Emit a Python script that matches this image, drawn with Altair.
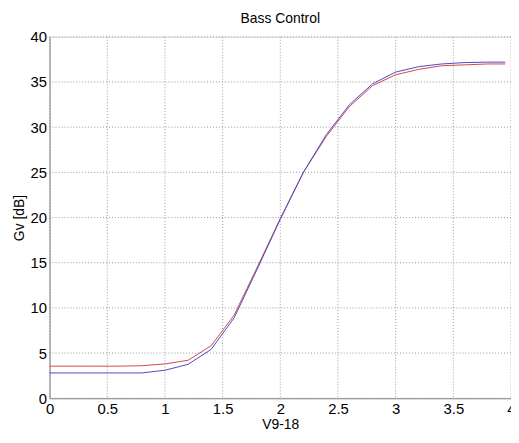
import altair as alt
import pandas as pd

x_vals = [0, 0.2, 0.4, 0.6, 0.8, 1.0, 1.2, 1.4, 1.6, 1.8, 2.0, 2.2, 2.4, 2.6, 2.8, 3.0, 3.2, 3.4, 3.6, 3.8, 3.95]
red_vals = [3.55, 3.55, 3.55, 3.55, 3.6, 3.8, 4.2, 5.8, 9.2, 14.5, 19.9, 25.0, 29.0, 32.3, 34.6, 35.8, 36.4, 36.8, 36.9, 37.0, 37.0]
blue_vals = [2.8, 2.8, 2.8, 2.8, 2.8, 3.1, 3.75, 5.4, 8.9, 14.3, 19.8, 25.0, 29.2, 32.5, 34.8, 36.1, 36.7, 37.0, 37.15, 37.2, 37.2]
series_names = ["red", "blue"]
series_colors = ["#d04848", "#4a4ac8"]
x_ticks = [0, 0.5, 1, 1.5, 2, 2.5, 3, 3.5, 4]
y_ticks = [0, 5, 10, 15, 20, 25, 30, 35, 40]

rows = []
for x, r, b in zip(x_vals, red_vals, blue_vals):
    rows.append({"x": x, "y": r, "s": "red"})
    rows.append({"x": x, "y": b, "s": "blue"})
df = pd.DataFrame(rows)
gx = pd.DataFrame({"x": x_ticks})
gy = pd.DataFrame({"y": y_ticks})

font = "Liberation Sans"
xscale = alt.Scale(domain=[0, 4], nice=False, zero=False)
yscale = alt.Scale(domain=[0, 40], nice=False)
xaxis = alt.Axis(title="V9-18", values=x_ticks, grid=False, ticks=False,
                 format="~g", labelFontSize=15, titleFontSize=14,
                 titleFontWeight="normal", titlePadding=2, labelPadding=3,
                 labelFlush=False)
yaxis = alt.Axis(title="Gv [dB]", values=y_ticks, grid=False, ticks=False,
                 labelFontSize=15, titleFontSize=14, titleFontWeight="normal",
                 titlePadding=4, labelPadding=3)

grid_style = dict(color="#999999", strokeDash=[1, 2], strokeWidth=1)
vgrid = alt.Chart(gx).mark_rule(**grid_style).encode(x=alt.X("x:Q", scale=xscale, axis=xaxis))
hgrid = alt.Chart(gy).mark_rule(**grid_style).encode(y=alt.Y("y:Q", scale=yscale, axis=yaxis))

lines = alt.Chart(df).mark_line(strokeWidth=1).encode(
    x=alt.X("x:Q", scale=xscale, axis=xaxis),
    y=alt.Y("y:Q", scale=yscale, axis=yaxis),
    color=alt.Color("s:N", scale=alt.Scale(domain=series_names, range=series_colors), legend=None),
    detail="s:N",
)

chart = alt.layer(vgrid, hgrid, lines).properties(
    width=466, height=365,
    title=alt.TitleParams("Bass Control", fontSize=14, fontWeight="normal", font=font,
                          color="black", offset=4),
    autosize=alt.AutoSizeParams(type="none"),
    padding={"left": 42, "top": 27, "right": 0, "bottom": 35},
).configure_axis(
    labelFont=font, titleFont=font, labelColor="black", titleColor="black",
    domainColor="#666666",
).configure_view(
    stroke="#666666", strokeWidth=1,
).configure(background="white")

chart.save("out.html", embed_options={"renderer": "svg", "actions": False})
